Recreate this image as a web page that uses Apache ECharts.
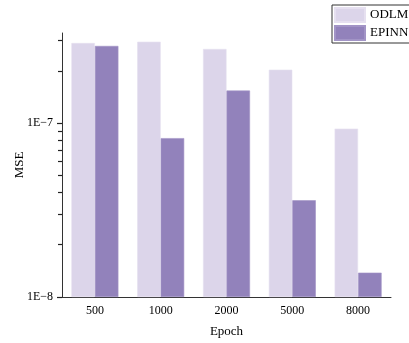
<!DOCTYPE html>
<html>
<head>
<meta charset="utf-8">
<script src="https://cdn.jsdelivr.net/npm/echarts@6/dist/echarts.min.js"></script>
<style>
  html, body { margin: 0; padding: 0; background: #fff; }
  #chart { width: 409px; height: 343px; }
</style>
</head>
<body>
<div id="chart"></div>
<script>
// data
const epochs = ['500', '1000', '2000', '5000', '8000']
const odlm = [2.89e-7, 2.94e-7, 2.67e-7, 2.03e-7, 9.3e-8]
const epinn = [2.78e-7, 8.2e-8, 1.54e-7, 3.6e-8, 1.38e-8]
const yMin = 1e-8
const yMax = 3.3e-7
const majorTicks = [1e-8, 1e-7]
const minorTicks = [2e-8, 3e-8, 4e-8, 5e-8, 6e-8, 7e-8, 8e-8, 9e-8, 2e-7, 3e-7]

const serif = 'Liberation Serif'
const axisColor = '#333'
const lg = v => Math.log10(v)

// overlay value axes (in log10 units) that only draw the tick marks / labels
const tickAxis = (values, len, labels) => ({
  type: 'value',
  position: 'left',
  min: lg(yMin),
  max: lg(yMax),
  axisLine: { show: false },
  splitLine: { show: false },
  axisTick: { show: true, length: len, customValues: values.map(lg), lineStyle: { color: '#222', width: 1.2 } },
  axisLabel: labels
    ? {
        show: true,
        customValues: values.map(lg),
        formatter: v => '1E\u2212' + Math.round(-v),
        fontFamily: serif,
        fontSize: 12,
        color: '#000',
        margin: 9,
      }
    : { show: false },
})

let myChart = echarts.init(document.getElementById('chart'))
myChart.setOption({
  animation: false,
  grid: { left: 62, right: 18, top: 33, bottom: 45 },
  legend: {
    orient: 'vertical',
    left: 332,
    top: 5,
    padding: [2, 3, 2, 2],
    itemGap: 2,
    itemWidth: 30,
    itemHeight: 14,
    icon: 'rect',
    borderColor: '#333',
    borderWidth: 1,
    textStyle: { fontFamily: serif, fontSize: 13, color: '#000' },
    data: ['ODLM', 'EPINN'],
  },
  xAxis: [
    {
      type: 'category',
      data: epochs,
      position: 'bottom',
      name: 'Epoch',
      nameLocation: 'middle',
      nameGap: 28,
      nameTextStyle: { fontFamily: serif, fontSize: 13, color: '#000' },
      axisLine: { lineStyle: { color: axisColor } },
      axisTick: { alignWithLabel: true, length: 4, lineStyle: { color: axisColor } },
      axisLabel: { fontFamily: serif, fontSize: 12, color: '#000', margin: 8 },
    },
    {
      type: 'category',
      data: epochs,
      position: 'bottom',
      axisLine: { show: false },
      axisTick: { length: 2, lineStyle: { color: axisColor } },
      axisLabel: { show: false },
    },
  ],
  yAxis: [
    {
      type: 'log',
      logBase: 10,
      min: yMin,
      max: yMax,
      startValue: yMin,
      position: 'left',
      name: 'MSE',
      nameLocation: 'middle',
      nameGap: 36,
      nameTextStyle: { fontFamily: serif, fontSize: 13, color: '#000' },
      axisLine: { show: true, lineStyle: { color: axisColor } },
      axisTick: { show: false },
      axisLabel: { show: false },
      splitLine: { show: false },
    },
    tickAxis(majorTicks, 5, true),
    tickAxis(minorTicks, 4, false),
  ],
  series: [
    {
      name: 'ODLM',
      type: 'bar',
      data: odlm,
      barWidth: 23.5,
      barGap: '0%',
      itemStyle: { color: '#dcd5ea', borderColor: '#e6e0f0', borderWidth: 0.6 },
    },
    {
      name: 'EPINN',
      type: 'bar',
      data: epinn,
      barWidth: 23.5,
      barGap: '0%',
      itemStyle: { color: '#9282bb', borderColor: '#a294c6', borderWidth: 0.6 },
    },
  ],
})
</script>
</body>
</html>
